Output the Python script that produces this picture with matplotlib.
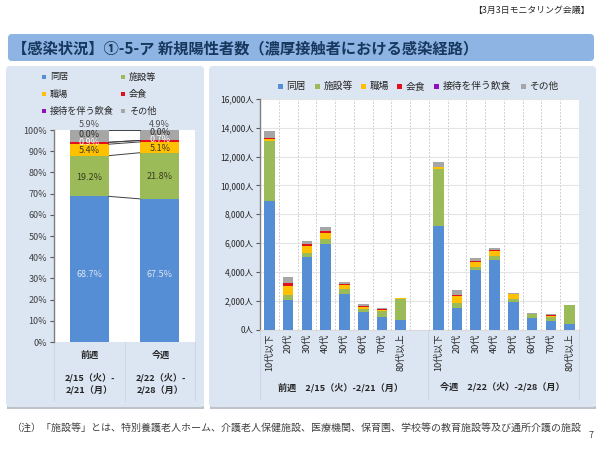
import matplotlib
matplotlib.use("Agg")
import matplotlib.pyplot as plt
from matplotlib.patches import FancyBboxPatch, Rectangle
from matplotlib.transforms import IdentityTransform
import numpy as np

plt.rcParams['font.family'] = ['Noto Sans CJK JP', 'DejaVu Sans']

series_names = ['同居', '施設等', '職場', '会食', '接待を伴う飲食', 'その他']
colors = ['#558ED5', '#9BBB59', '#FFC000', '#E3101A', '#8E10BE', '#A6A6A6']

# share chart
weeks = ['前週', '今週']
week_ranges = ['2/15（火）-\n2/21（月）', '2/22（火）-\n2/28（月）']
share_prev = [68.7, 19.2, 5.4, 0.9, 0.0, 5.9]
share_curr = [67.5, 21.8, 5.1, 0.7, 0.0, 4.9]

# age chart
ages = ['10代以下', '20代', '30代', '40代', '50代', '60代', '70代', '80代以上']
prev_doukyo = [8950, 2050, 5050, 5950, 2450, 1200, 900, 650]
prev_shisetsu = [4150, 350, 250, 300, 350, 200, 350, 1500]
prev_shokuba = [150, 650, 500, 450, 300, 150, 100, 20]
prev_kaishoku = [10, 150, 150, 150, 50, 70, 50, 10]
prev_settai = [10, 10, 10, 10, 5, 5, 5, 0]
prev_other = [530, 440, 190, 240, 145, 155, 75, 20]
curr_doukyo = [7190, 1480, 4150, 4850, 1880, 810, 560, 400]
curr_shisetsu = [3970, 330, 210, 250, 230, 260, 340, 1290]
curr_shokuba = [90, 510, 350, 350, 330, 20, 20, 5]
curr_kaishoku = [10, 90, 50, 70, 10, 10, 80, 5]
curr_settai = [0, 0, 0, 0, 0, 0, 0, 0]
curr_other = [390, 330, 180, 120, 80, 80, 70, 10]

W, H = 600, 450
fig = plt.figure(figsize=(6, 4.5), dpi=100, facecolor='white')


def fx(x):
    return x / W


def fy(y):
    return 1 - y / H


def axes_px(x0, y0, x1, y1):
    a = fig.add_axes([fx(x0), fy(y1), (x1 - x0) / W, (y1 - y0) / H])
    a.set_zorder(5)
    return a


for (x0, y0, x1, y1, fc, sh) in [(8, 34, 594, 61, '#8DB4E2', False),
                                 (6, 66, 204, 407, '#DCE6F2', True),
                                 (209, 66, 596, 407, '#DCE6F2', True)]:
    if sh:
        fig.add_artist(Rectangle((x0 + 1, H - y1 - 1.5), x1 - x0 - 1, 2.5, transform=IdentityTransform(),
                                 fc='#BEC3C9', ec='none', zorder=0))
    fig.add_artist(FancyBboxPatch((x0, H - y1), x1 - x0, y1 - y0,
                                  boxstyle='round,pad=0,rounding_size=4',
                                  transform=IdentityTransform(), fc=fc, ec='none', zorder=0.5))

TXT = '#262626'
fig.text(fx(590), fy(10), '【3月3日モニタリング会議】', fontsize=6.4, ha='right', va='center', color=TXT, zorder=6)
fig.text(fx(12), fy(48), '【感染状況】①-5-ア 新規陽性者数（濃厚接触者における感染経路）', fontsize=11,
         fontweight='bold', ha='left', va='center', color='#17375E', zorder=6)
fig.text(fx(11), fy(428), '（注）「施設等」とは、特別養護老人ホーム、介護老人保健施設、医療機関、保育園、学校等の教育施設等及び通所介護の施設',
         fontsize=7.2, ha='left', va='center', color='#404040', zorder=6)
fig.text(fx(594), fy(436), '7', fontsize=6.5, ha='right', va='center', color='#404040', zorder=6)

# ---- left chart
ax = axes_px(54, 130, 195, 342)
ax.set_facecolor('white')
shares = np.array([share_prev, share_curr])
bottom = np.zeros(2)
bw = 0.55
for i, name in enumerate(series_names):
    ax.bar([0, 1], shares[:, i], bottom=bottom, width=bw, color=colors[i], label=name, zorder=3)
    bottom = bottom + shares[:, i]
    top = np.minimum(bottom, 100)
    ax.plot([bw / 2, 1 - bw / 2], top, color='#404040', lw=0.7, zorder=3, clip_on=False)
ax.set_xlim(-0.5, 1.5)
ax.set_ylim(0, 100)
ax.set_yticks(np.arange(0, 101, 10))
ax.set_yticklabels([f'{v}%' for v in range(0, 101, 10)], fontsize=6.5, color='#404040')
ax.set_xticks([])
ax.tick_params(axis='y', length=3, width=0.8, color='#595959', pad=2)
for s in ['top', 'right', 'bottom']:
    ax.spines[s].set_visible(False)
ax.spines['left'].set_color('#7F7F7F')
ax.spines['left'].set_linewidth(1.0)
ax.axhline(0, color='#D9D9D9', lw=0.7, zorder=4)

share_label_y = [[32, 77.5, 90.1, 94.3, 98.1, 102.8], [31.8, 78, 91.4, 95.3, 98.9, 102.8]]
share_label_c = ['#DCE6F2', '#3A3A20', '#3A3A20', 'white', '#303030', '#505050']
for j, vals in enumerate(shares):
    for i, v in enumerate(vals):
        ax.text(j, share_label_y[j][i], f'{v:.1f}%', ha='center', va='center', fontsize=6.5,
                color=share_label_c[i], zorder=5, clip_on=False)

for xc, wk, rng in zip([89.5, 160.5], weeks, week_ranges):
    fig.text(fx(xc), fy(355), wk, fontsize=6.6, fontweight='bold', ha='center', va='center', color=TXT, zorder=6)
    fig.text(fx(xc), fy(384), rng, fontsize=6.6, fontweight='bold', ha='center', va='center',
             color=TXT, linespacing=1.45, zorder=6)
for xv in [54, 124.5, 195]:
    fig.add_artist(plt.Line2D([fx(xv), fx(xv)], [fy(342), fy(401)], color='#CBD5E2', lw=0.6, zorder=1))

for k in range(6):
    row, col = k // 2, k % 2
    mx = [42, 121][col]
    my = [77, 94, 111][row]
    fig.add_artist(Rectangle((mx, H - my - 2), 4, 4, transform=IdentityTransform(), fc=colors[k], ec='none', zorder=2))
    fig.text(fx(mx + 8), fy(my), series_names[k], fontsize=6.6, ha='left', va='center', color=TXT, zorder=6)

# ---- right chart
ax2 = axes_px(260, 99, 579, 329.5)
ax2.set_facecolor('white')
prev = np.array([prev_doukyo, prev_shisetsu, prev_shokuba, prev_kaishoku, prev_settai, prev_other])
curr = np.array([curr_doukyo, curr_shisetsu, curr_shokuba, curr_kaishoku, curr_settai, curr_other])
x_prev = np.arange(8)
x_curr = np.arange(9, 17)
for xs, data in [(x_prev, prev), (x_curr, curr)]:
    b = np.zeros(8)
    for i in range(6):
        ax2.bar(xs, data[i], bottom=b, width=0.57, color=colors[i], zorder=3)
        b = b + data[i]
ax2.set_xlim(-0.5, 16.5)
ax2.set_ylim(0, 16000)
yt = np.arange(0, 16001, 2000)
ax2.set_yticks(yt)
ax2.set_yticklabels([f'{v:,}人' for v in yt], fontsize=6, color='#262626')
ax2.set_xticks(list(x_prev) + list(x_curr))
ax2.set_xticklabels(ages + ages, rotation=90, fontsize=6.6, color='#262626')
ax2.tick_params(axis='x', length=0, pad=3)
ax2.tick_params(axis='y', length=3, width=0.8, color='#595959', pad=1.5)
ax2.grid(axis='y', color='#E4E4E4', lw=0.8, zorder=1)
for xv in np.arange(0.5, 16.5, 1):
    ax2.axvline(xv, color='#BFBFBF', lw=0.6, ls=(0, (2, 2)), zorder=1)
for s in ['top', 'right']:
    ax2.spines[s].set_visible(False)
ax2.spines['left'].set_color('#7F7F7F')
ax2.spines['left'].set_linewidth(1.0)
ax2.spines['bottom'].set_color('#D9D9D9')
ax2.spines['bottom'].set_linewidth(0.7)

fig.text(fx(341), fy(388), '前週　2/15（火）-2/21（月）', fontsize=6.6, fontweight='bold', ha='center', va='center', color=TXT, zorder=6)
fig.text(fx(502), fy(387), '今週　2/22（火）-2/28（月）', fontsize=6.6, fontweight='bold', ha='center', va='center', color=TXT, zorder=6)
for xv in [260, 428.5, 579]:
    fig.add_artist(plt.Line2D([fx(xv), fx(xv)], [fy(329), fy(399)], color='#CBD5E2', lw=0.6, zorder=1))

leg_x = [278, 315, 361, 397, 434, 521]
for k in range(6):
    mx = leg_x[k]
    fig.add_artist(Rectangle((mx, H - 86 - 2.5), 5, 5, transform=IdentityTransform(), fc=colors[k], ec='none', zorder=2))
    fig.text(fx(mx + 8.5), fy(86), series_names[k], fontsize=7, ha='left', va='center', color=TXT, zorder=6)

fig.savefig('out.png', dpi=100)
